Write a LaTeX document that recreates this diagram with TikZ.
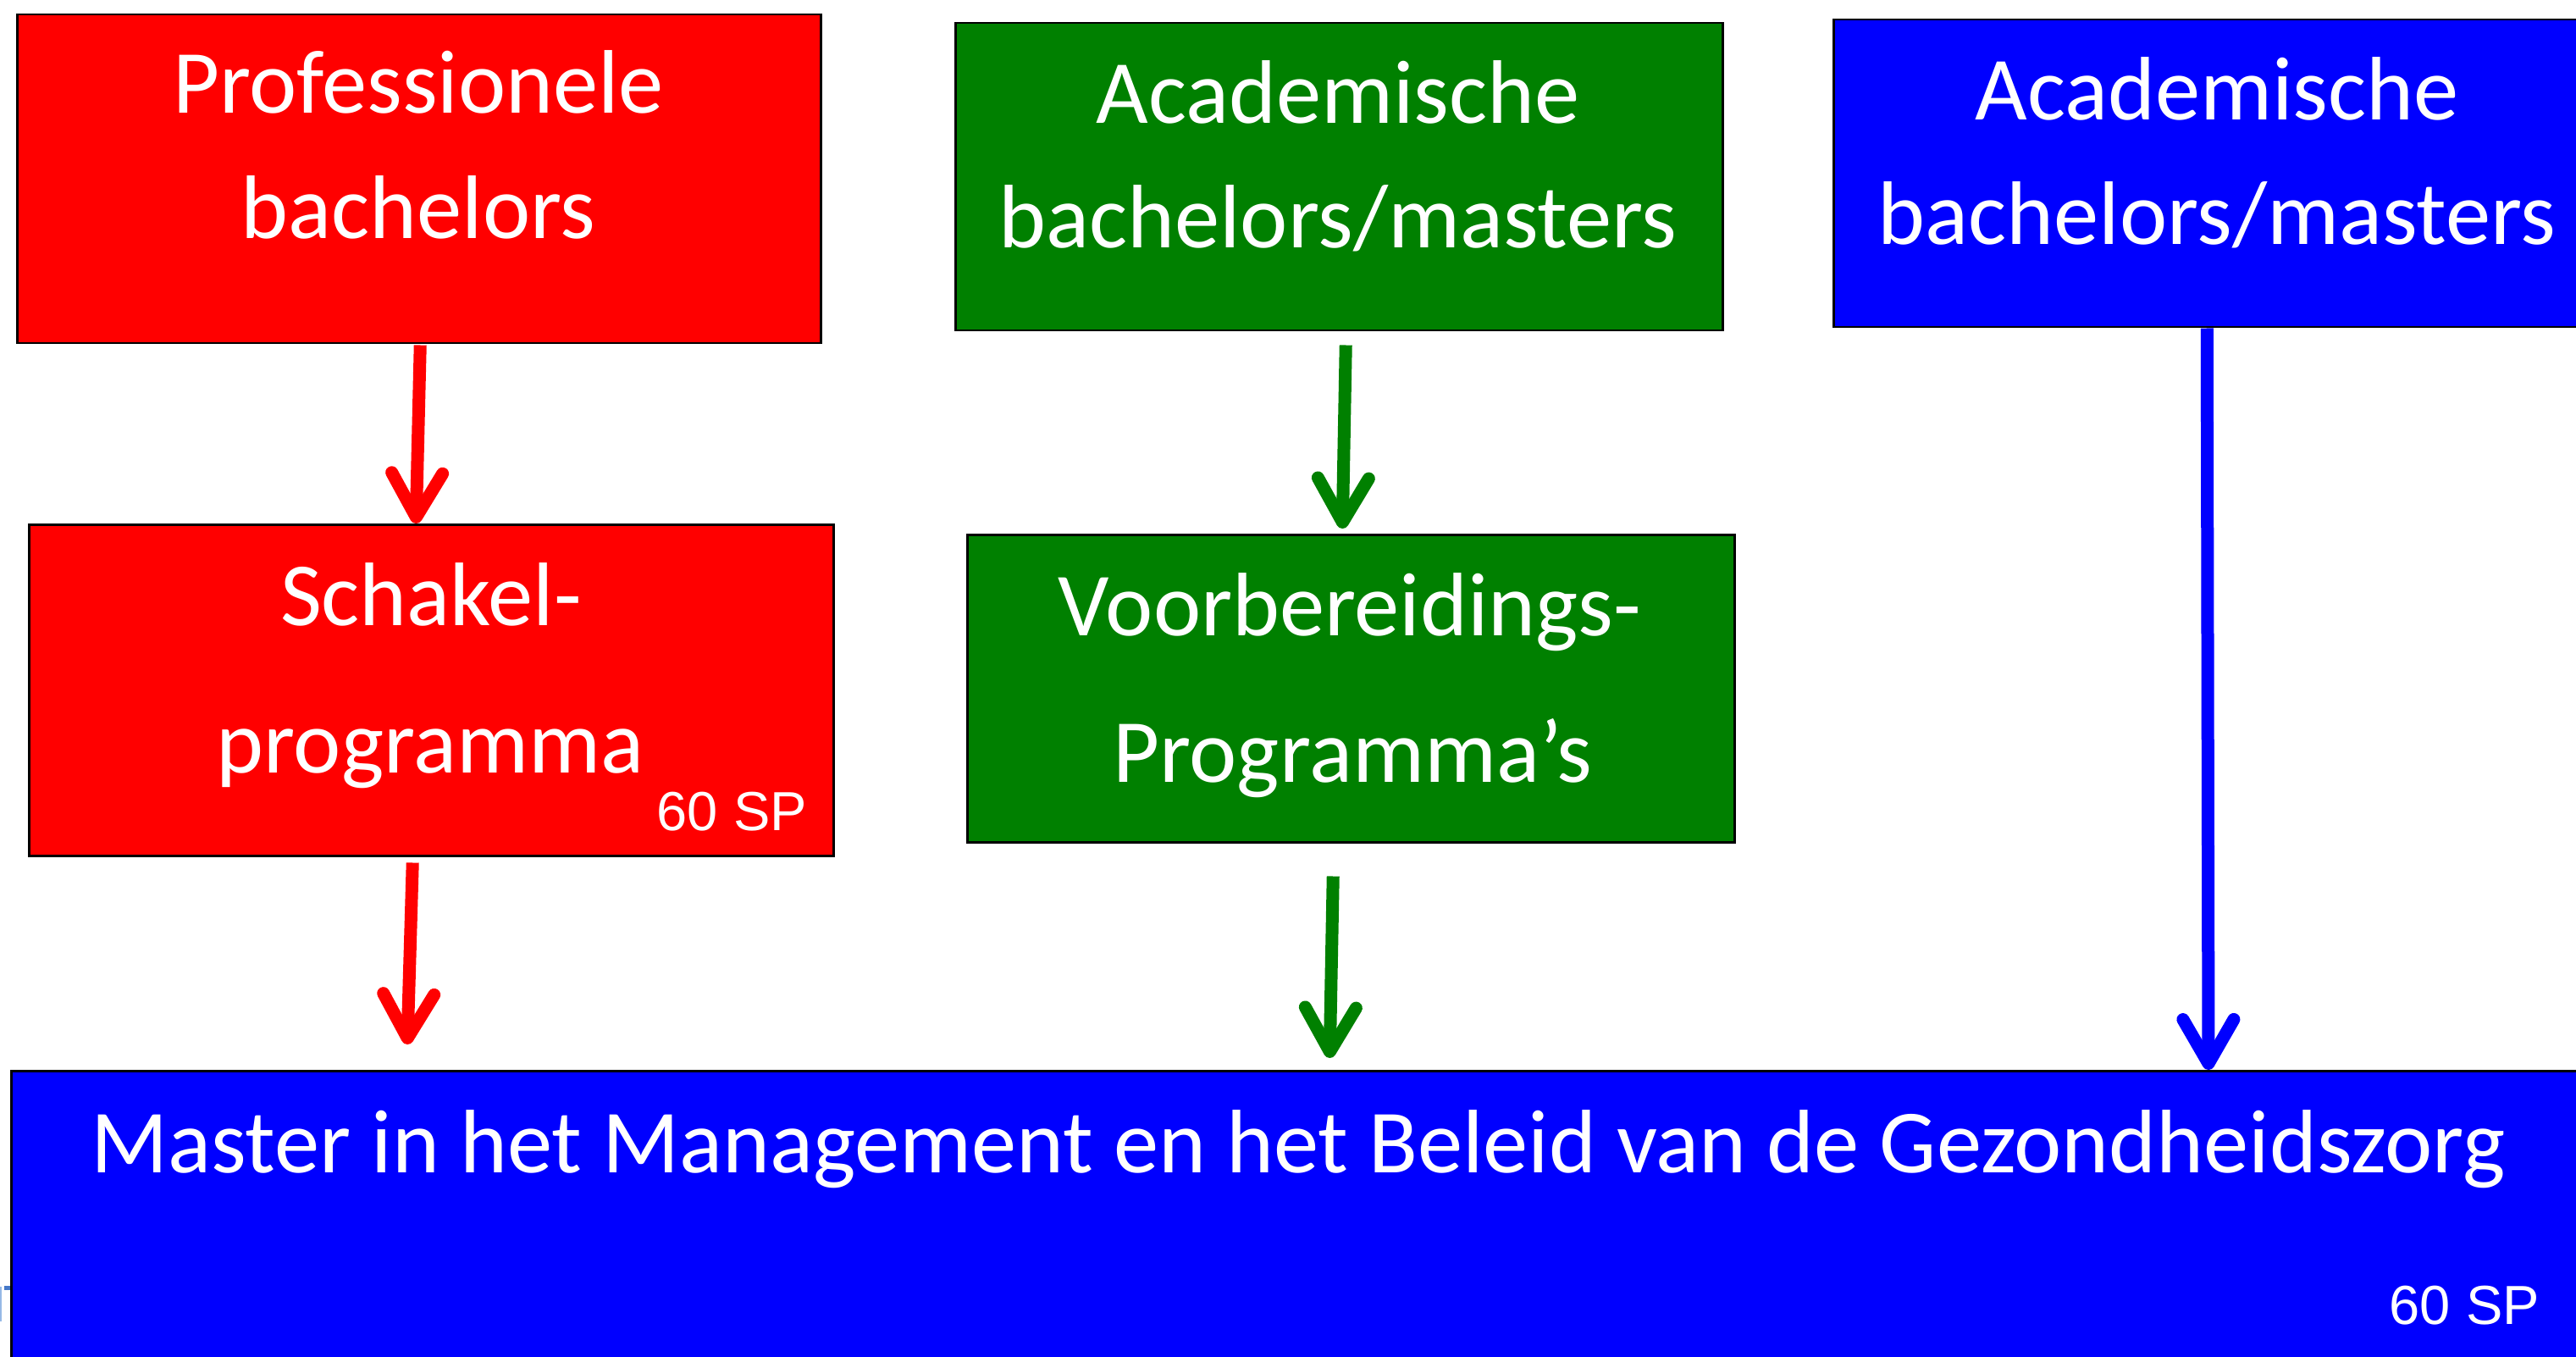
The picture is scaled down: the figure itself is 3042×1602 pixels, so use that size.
\documentclass[tikz,border=0pt]{standalone}
\usepackage{fontspec}
\setmainfont{Carlito}
\newfontfamily\arialf{Liberation Sans}
\usetikzlibrary{arrows.meta}
\definecolor{pred}{RGB}{255,0,0}
\definecolor{pgreen}{RGB}{0,128,0}
\definecolor{pblue}{RGB}{0,0,255}
\definecolor{artblue}{RGB}{70,120,200}
\definecolor{artlight}{RGB}{150,185,230}
\begin{document}
\begin{tikzpicture}[x=1pt,y=-1pt,
  box/.style={draw=black, line width=2.5pt, inner sep=0pt, anchor=north west},
  big/.style={text=white, font=\fontsize{106.5}{128}\selectfont, inner sep=0pt, anchor=base},
  sp/.style={text=white, font=\arialf\fontsize{65}{78}\selectfont, inner sep=0pt, anchor=base east},
  conn/.style={line width=15pt, -{Straight Barb[length=52pt,width=60pt,round]}}]
\useasboundingbox (0,0) rectangle (3042,1602);
\clip (0,0) rectangle (3042,1602);
\fill[white] (0,0) rectangle (3042,1602);

% boxes
\node[box, fill=pred,   minimum width=949pt,  minimum height=388pt] (b1) at (19,16) {};
\node[box, fill=pgreen, minimum width=906pt,  minimum height=363pt] (b2) at (1127,26) {};
\node[box, fill=pblue,  minimum width=908pt,  minimum height=363pt] (b3) at (2164,22) {};
\node[box, fill=pred,   minimum width=950pt,  minimum height=391pt] (b4) at (33,618) {};
\node[box, fill=pgreen, minimum width=906pt,  minimum height=363pt] (b5) at (1141,630) {};
\node[box, fill=pblue,  minimum width=3042pt, minimum height=380pt] (b6) at (12,1263) {};

% texts
\node[big] (t1a) at (494,134) {Professionele};
\node[big] (t1b) at (494,282) {bachelors};
\node[big] (t2a) at (1580,146) {Academische};
\node[big] (t2b) at (1580,293) {bachelors/masters};
\node[big] (t3a) at (2618,142) {Academische};
\node[big] (t3b) at (2618,289) {bachelors/masters};
\node[big] (t4a) at (509,738) {Schakel-};
\node[big] (t4b) at (508,912) {programma};
\node[big] (t5a) at (1594,750) {Voorbereidings-};
\node[big] (t5b) at (1597,923) {Programma’s};
\node[big] (t6) at (1533,1384) {Master in het Management en het Beleid van de Gezondheidszorg};
\node[sp] (sp4) at (953,980) {60 SP};
\node[sp] (sp6) at (2999,1563) {60 SP};

% connectors
\draw[conn, pred]   ([xshift=1.5pt,yshift=-1pt]b1.south) -- ([xshift=-18pt]b4.north);
\draw[conn, pred]   ([xshift=-22pt,yshift=-7pt]b4.south) -- ([xshift=469pt,yshift=30pt]b6.north west);
\draw[conn, pgreen] ([xshift=8pt,yshift=-16pt]b2.south) -- ([xshift=-10pt,yshift=6pt]b5.north);
\draw[conn, pgreen] ([xshift=-21pt,yshift=-39pt]b5.south) -- ([xshift=36pt,yshift=14pt]b6.north);
\draw[conn, pblue]  ([xshift=-13pt]b3.south) -- ([xshift=2596pt]b6.north west);

% small leftover mark at the left edge
\fill[artblue] (5,1518) rectangle (12,1523);
\draw[artlight, line width=2pt] (1,1519) -- (1,1560);
\end{tikzpicture}
\end{document}
